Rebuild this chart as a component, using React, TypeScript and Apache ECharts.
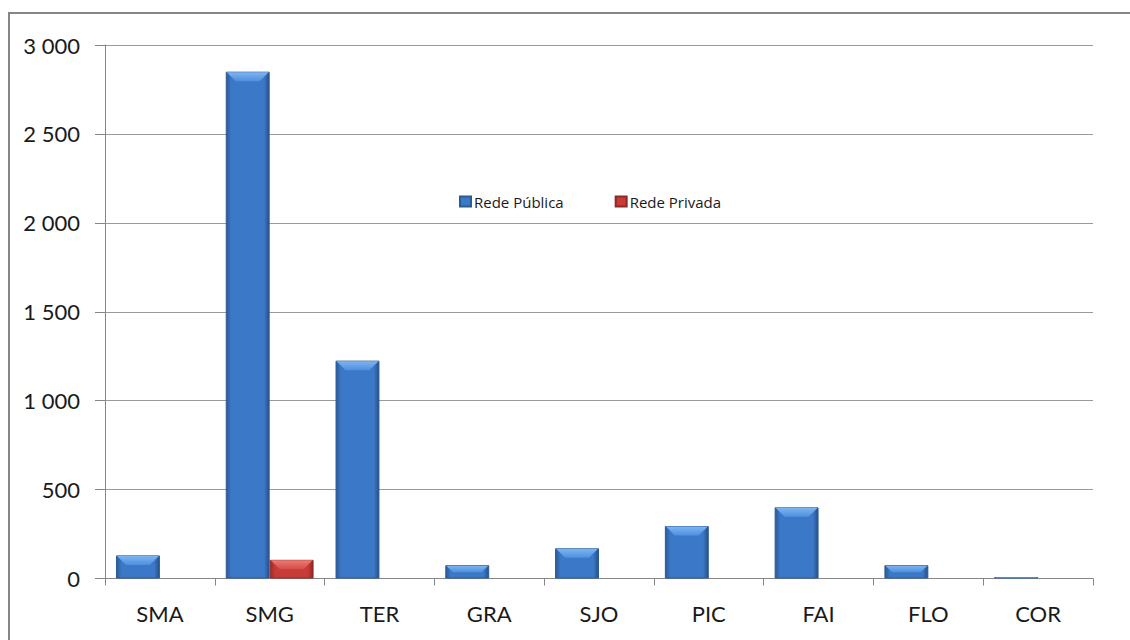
import React, { useEffect, useRef } from "react";
import * as echarts from "echarts";

const categories = ["SMA", "SMG", "TER", "GRA", "SJO", "PIC", "FAI", "FLO", "COR"];
const redePublica = [130, 2850, 1225, 75, 170, 295, 400, 75, 8];
const redePrivada = [0, 105, 0, 0, 0, 0, 0, 0, 0];
const yTicks = [0, 500, 1000, 1500, 2000, 2500, 3000];

const fmt = (v: number) => String(v).replace(/\B(?=(\d{3})+(?!\d))/g, " ");

function bevel(side: number, light: string) {
  return (params: any, api: any) => {
    const idx = api.value(0);
    const val = api.value(1);
    if (!val) return null;
    const top = api.coord([idx, val]);
    const base = api.coord([idx, 0]);
    const w = api.size([1, 0])[0] * 0.4;
    const x0 = top[0] + (side < 0 ? -w : 0) + 1;
    const x1 = x0 + w - 2;
    const hgt = base[1] - top[1];
    const h = Math.min(9, hgt / 2);
    const y = top[1] + 0.5;
    return {
      type: "polygon",
      shape: {
        points: [
          [x0, y],
          [x1, y],
          [x1 - h, y + h],
          [x0 + h, y + h],
        ],
      },
      style: { fill: light },
      silent: true,
    };
  };
}

export default function App() {
  const ref = useRef<HTMLDivElement>(null);
  useEffect(() => {
    if (!ref.current) return;
    const chart = echarts.init(ref.current, undefined, { renderer: "svg" });
    const blue = new echarts.graphic.LinearGradient(0, 0, 1, 0, [
      { offset: 0, color: "#2a5a98" },
      { offset: 0.12, color: "#3b79c8" },
      { offset: 0.88, color: "#3b79c8" },
      { offset: 1, color: "#284f86" },
    ]);
    const red = new echarts.graphic.LinearGradient(0, 0, 1, 0, [
      { offset: 0, color: "#9c2a27" },
      { offset: 0.12, color: "#c83c38" },
      { offset: 0.88, color: "#c83c38" },
      { offset: 1, color: "#8e2624" },
    ]);
    const blueTop = new echarts.graphic.LinearGradient(0, 0, 0, 1, [
      { offset: 0, color: "#7db5f2" },
      { offset: 1, color: "#4f8fdc" },
    ]);
    const redTop = new echarts.graphic.LinearGradient(0, 0, 0, 1, [
      { offset: 0, color: "#ee7a74" },
      { offset: 1, color: "#d44c47" },
    ]);
    chart.setOption({
      animation: false,
      graphic: [
        {
          type: "rect",
          shape: { x: 9, y: 13, width: 1200, height: 700 },
          style: { fill: "none", stroke: "#868686", lineWidth: 2 },
          silent: true,
        },
      ],
      legend: {
        left: 454,
        top: 189,
        itemWidth: 11,
        itemHeight: 10,
        itemGap: 51,
        icon: "rect",
        textStyle: { fontFamily: "Open Sans", fontSize: 15, color: "#1a1a1a", padding: [0, 0, 0, -2] },
        data: ["Rede Pública", "Rede Privada"],
      },
      grid: { left: 105, right: 37, top: 45, bottom: 61.5 },
      xAxis: {
        type: "category",
        data: categories,
        axisLine: { lineStyle: { color: "#868686", width: 1 } },
        axisTick: { show: true, length: 7, lineStyle: { color: "#868686" } },
        axisLabel: { fontFamily: "Lato", fontSize: 22, color: "#1a1a1a", margin: 24 },
      },
      yAxis: {
        type: "value",
        min: 0,
        max: 3000,
        interval: 500,
        axisLine: { show: true, lineStyle: { color: "#868686", width: 1 } },
        axisTick: { show: true, length: 10, lineStyle: { color: "#868686" } },
        splitLine: { lineStyle: { color: "#9a9a9a", width: 1 } },
        axisLabel: {
          fontFamily: "Lato",
          fontSize: 22,
          color: "#1a1a1a",
          margin: 25,
          formatter: (v: number) => (yTicks.includes(v) ? fmt(v) : ""),
        },
      },
      series: [
        {
          name: "Rede Pública",
          type: "bar",
          data: redePublica,
          barGap: "0%",
          barCategoryGap: "20%",
          itemStyle: { color: blue, borderColor: "#2c5b94", borderWidth: 1 },
        },
        {
          name: "Rede Privada",
          type: "bar",
          data: redePrivada.map((v) => (v > 0 ? v : null)),
          barGap: "0%",
          barCategoryGap: "20%",
          itemStyle: { color: red, borderColor: "#8e2a27", borderWidth: 1 },
        },
        {
          name: "bevelPublica",
          type: "custom",
          renderItem: bevel(-1, blueTop as any),
          data: redePublica.map((v, i) => [i, v]),
          z: 5,
          silent: true,
        },
        {
          name: "bevelPrivada",
          type: "custom",
          renderItem: bevel(1, redTop as any),
          data: redePrivada.map((v, i) => [i, v]),
          z: 5,
          silent: true,
        },
      ],
    });
    return () => chart.dispose();
  }, []);
  return (
    <div
      ref={ref}
      style={{ position: "fixed", left: 0, top: 0, width: 1130, height: 640, background: "#fff" }}
    />
  );
}
